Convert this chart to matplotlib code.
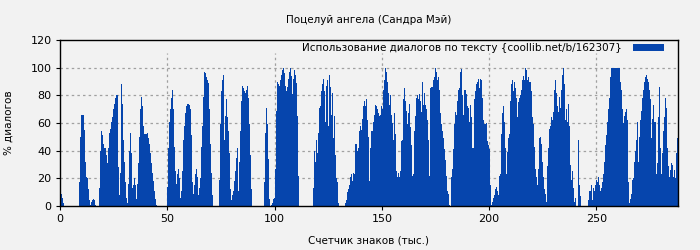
import matplotlib
matplotlib.use('Agg')
import matplotlib.pyplot as plt
import numpy as np

# chart text
title = 'Поцелуй ангела (Сандра Мэй)'
legend_label = 'Использование диалогов по тексту {coollib.net/b/162307}'
xlabel = 'Счетчик знаков (тыс.)'
ylabel = '% диалогов'

# x step of the samples (thousands of characters) and the axis range
STEP = 0.466
x_max = 288
x_ticks = [0, 50, 100, 150, 200, 250]
y_ticks = [0, 20, 40, 60, 80, 100, 120]

# dialog share per sample left to right
part1 = [6, 9, 6, 2,
         0, 0, 0, 0, 0, 0, 0, 0, 0, 0, 0, 0, 0, 0, 0,
         17, 50, 66, 66, 66, 55, 32, 21, 20, 12, 4, 1, 3, 4, 5, 4, 1,
         0, 0, 0,
         13, 40, 54, 51, 45, 42, 42, 37, 31, 42, 53, 56, 61, 64, 70, 74, 78, 80, 80, 28,
         8, 24, 88, 74, 48, 32, 17, 6, 2, 16, 40, 53, 38, 13, 15, 20, 15, 5, 16, 31,
         50, 70, 79, 72, 58, 52, 52, 52, 53, 49, 45, 38, 31, 24, 18, 11, 5, 1,
         0, 0, 0, 0, 0, 0, 0, 0, 0, 0]
part2 = [14, 42, 61, 70, 78, 84, 70, 43, 25, 16, 23, 27, 20, 6, 11, 25, 48, 58, 67, 72,
         74, 74, 73, 70, 51, 17, 9, 15, 23, 27, 21, 8, 13, 20, 43, 58, 79, 97, 96, 93,
         91, 89, 70, 45, 24, 8,
         0, 0, 0, 0, 0, 0,
         19, 59, 83, 91, 95, 48, 65, 77, 64, 54, 38, 12, 4, 8, 11, 18, 25, 35, 42, 11,
         32, 54, 76, 87, 85, 83, 82, 84, 87, 78, 59, 37, 12,
         0, 0, 0, 0, 0, 0, 0, 0, 0, 0, 0, 0,
         17, 53, 71, 59, 34, 5, 0, 1, 2, 5, 6, 27]
part3 = [69, 90, 88, 87, 91, 95, 98, 100, 96, 87, 83, 86, 92, 97, 100, 94, 81, 92, 98, 95,
         89, 65, 22,
         0, 0, 0, 0, 0, 0, 0, 0, 0, 0, 0, 0, 0, 0,
         13, 40, 32, 48, 38, 53, 71, 72, 83, 88, 92, 83, 61, 87, 91, 58, 95, 86, 66, 82,
         49, 65, 37, 20, 17, 2,
         0, 0, 0, 0, 0, 0,
         2, 4, 10, 12, 15, 21, 23, 18, 24, 23, 45, 45, 40, 42, 54, 58, 55, 63, 72, 76,
         72, 77, 62, 50, 18]
part4 = [42, 54, 54, 61, 66, 73, 72, 70, 67, 65, 66, 72, 70, 84, 91, 100, 97, 90, 82, 73,
         80, 66, 60, 48, 67, 52, 25, 21, 24, 21, 25, 47, 48, 77, 85, 76, 69, 59, 67, 74,
         57, 44, 22, 23, 54, 65, 78, 80, 77, 81, 76, 68, 90, 73, 82, 73, 70, 62, 48, 22,
         85, 86, 86, 91, 93, 100, 97, 91, 93, 84, 67, 59, 54, 49, 41, 33, 22, 11, 9, 1,
         0,
         21, 27, 41, 59, 68, 66, 76, 84, 85, 97, 99, 80, 66, 84, 84, 81, 72, 71, 61, 73,
         64, 42, 42,
         77, 83, 88, 90, 92, 85, 92, 91, 78, 62, 59, 59, 60, 47, 44, 41, 15]
part5 = [1, 3, 6, 8, 12, 14, 11, 8, 22, 23, 52, 67, 72, 61, 42, 23, 39, 49, 52, 76,
         88, 91, 83, 90, 85, 78, 64, 75, 78, 80, 84, 91, 94, 91, 100, 98, 91, 93, 90, 90,
         83, 64, 59, 43, 27, 21, 15, 27, 49, 50, 45, 32, 21, 12, 9, 3, 29, 42, 56, 58,
         64, 62, 68, 84, 91, 82, 72, 68, 79, 71, 84, 95, 100, 88, 62, 70, 61, 74, 58, 30,
         19, 25, 13, 3, 6,
         0, 0, 48, 15, 7,
         0, 0, 0, 0, 0, 0, 0]
part6 = [4, 11, 11, 15, 4, 13, 11, 15, 19, 17, 21, 15, 11, 13, 17, 23, 32, 44, 51, 61,
         70, 78, 93, 100, 100, 100, 100, 100, 100, 100, 100, 100, 90, 84, 70, 60, 65, 68, 70, 62,
         17, 2, 5, 9, 19, 20, 32, 40, 48, 61, 32, 50, 62, 69, 78, 84, 90, 93, 95, 92,
         90, 84, 77, 49, 63, 73, 61, 61, 23, 31, 64, 86, 42, 23, 38, 54, 64, 78, 71, 42,
         29, 21, 26, 31, 30, 21, 26, 20, 38, 49]

values = np.array(part1 + part2 + part3 + part4 + part5 + part6, dtype=float)
xs = np.arange(len(values)) * STEP

bg = '#f2f2f2'
bar_color = '#0645ad'
grid_color = '#a0a0a0'
fs = 7.5

fig = plt.figure(figsize=(7, 2.5), dpi=100, facecolor=bg)
ax = fig.add_axes([60 / 700, 1 - 206 / 250, 618 / 700, 166 / 250], facecolor=bg)

for yv in y_ticks[1:-1]:
    ax.axhline(yv, color=grid_color, lw=0.9, ls=(0, (2, 2.5)), zorder=1)
ax.vlines(x_ticks[1:], 0, 110.5, color=grid_color, lw=0.9, ls=(0, (2, 2.5)), zorder=1)

ax.bar(xs, values, width=STEP, align='edge', color=bar_color, linewidth=0,
       label=legend_label, zorder=2)

ax.set_xlim(0, x_max)
ax.set_ylim(0, 120)
ax.set_xticks(x_ticks)
ax.set_yticks(y_ticks)
ax.tick_params(direction='out', length=3, width=0.8, labelsize=fs + 0.5, colors='black', pad=3)
for s in ax.spines.values():
    s.set_linewidth(1.0)

ax.set_title(title, fontsize=fs, pad=12)
ax.set_xlabel(xlabel, fontsize=fs)
ax.set_ylabel(ylabel, fontsize=fs)
ax.xaxis.set_label_coords(0.5, -0.18)
ax.yaxis.set_label_coords(-0.075, 0.5)

ax.legend(loc='upper right', bbox_to_anchor=(1 - 11 / 618, 1), frameon=False,
          fontsize=fs, markerfirst=False,
          handlelength=3.0, handleheight=0.55, handletextpad=1.0,
          borderaxespad=0.1, borderpad=0.2)

fig.savefig('out.png', dpi=100, facecolor=bg)
